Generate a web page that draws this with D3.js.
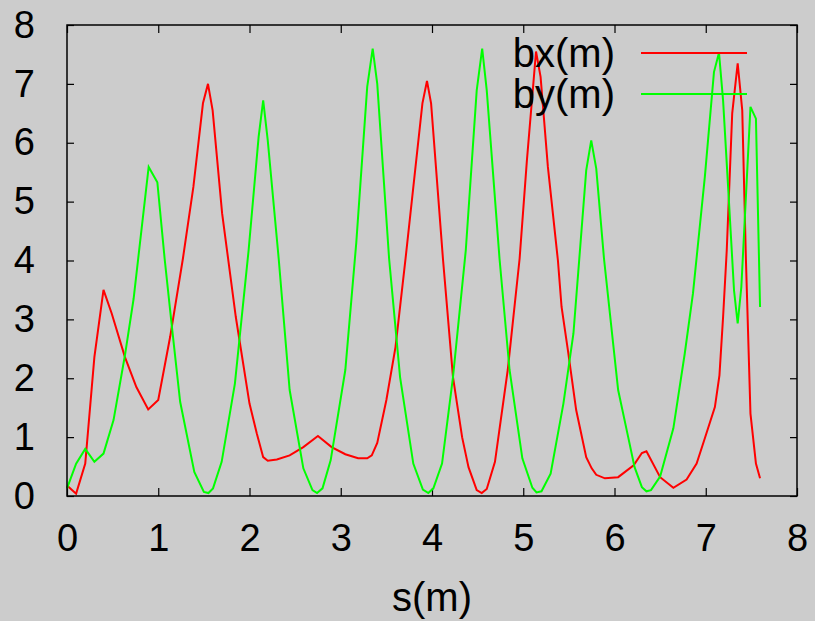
<!DOCTYPE html>
<html>
<head>
<meta charset="utf-8">
<script src="https://cdn.jsdelivr.net/npm/d3@7"></script>
<style>
  body { margin: 0; background: #cccccc; }
  text { font-family: "Liberation Sans", Arial, sans-serif; fill: #000; }
</style>
</head>
<body>
<div id="chart"></div>
<script>
// bx(m) samples
var sBx = [0.0, 0.1, 0.2, 0.3, 0.4, 0.49, 0.635, 0.76, 0.89, 1.0, 1.13, 1.27, 1.385, 1.49, 1.545, 1.596, 1.70, 1.85, 2.0, 2.08,
  2.15, 2.2, 2.3, 2.44, 2.59, 2.75, 2.9, 3.05, 3.19, 3.29, 3.34, 3.4, 3.5, 3.6, 3.71, 3.895, 3.945, 3.99, 4.12, 4.23,
  4.33, 4.4, 4.49, 4.545, 4.6, 4.69, 4.83, 4.96, 5.04, 5.14, 5.19, 5.27, 5.38, 5.42, 5.49, 5.58, 5.69, 5.75, 5.8, 5.895,
  6.04, 6.21, 6.3, 6.35, 6.5, 6.645, 6.79, 6.9, 6.99, 7.1, 7.15, 7.19, 7.23, 7.29, 7.35, 7.4, 7.44, 7.49, 7.55, 7.595];
var bx = [0.18, 0.04, 0.55, 2.36, 3.5, 3.1, 2.36, 1.85, 1.47, 1.63, 2.7, 4.03, 5.25, 6.67, 7.0, 6.55, 4.8, 3.04, 1.57, 1.06,
  0.66, 0.6, 0.62, 0.69, 0.83, 1.02, 0.83, 0.71, 0.64, 0.64, 0.69, 0.9, 1.63, 2.53, 4.03, 6.67, 7.05, 6.67, 4.03, 2.02,
  1.0, 0.49, 0.1, 0.05, 0.12, 0.58, 2.14, 4.03, 5.7, 7.55, 7.12, 5.59, 4.0, 3.21, 2.47, 1.46, 0.66, 0.47, 0.36, 0.3,
  0.32, 0.52, 0.73, 0.76, 0.32, 0.14, 0.28, 0.55, 0.98, 1.51, 2.05, 3.04, 4.17, 6.5, 7.35, 6.55, 4.03, 1.4, 0.55, 0.3];

// by(m) samples
var sBy = [0.0, 0.1, 0.2, 0.3, 0.4, 0.51, 0.635, 0.73, 0.895, 0.99, 1.07, 1.15, 1.24, 1.395, 1.5, 1.55, 1.6, 1.695, 1.84, 1.99,
  2.1, 2.15, 2.2, 2.32, 2.44, 2.59, 2.69, 2.74, 2.8, 2.89, 3.05, 3.17, 3.29, 3.35, 3.4, 3.53, 3.65, 3.795, 3.9, 3.96,
  4.015, 4.11, 4.23, 4.37, 4.49, 4.55, 4.6, 4.74, 4.85, 4.99, 5.1, 5.145, 5.2, 5.3, 5.44, 5.55, 5.69, 5.745, 5.8, 5.885,
  6.04, 6.15, 6.22, 6.3, 6.35, 6.4, 6.5, 6.645, 6.77, 6.86, 6.99, 7.09, 7.145, 7.19, 7.245, 7.31, 7.35, 7.39, 7.49, 7.55, 7.595];
var by = [0.13, 0.55, 0.8, 0.58, 0.72, 1.29, 2.39, 3.35, 5.59, 5.33, 4.03, 2.87, 1.6, 0.41, 0.07, 0.05, 0.13, 0.58, 1.91, 4.17,
  6.1, 6.72, 6.04, 4.03, 1.8, 0.47, 0.1, 0.05, 0.13, 0.61, 2.14, 4.3, 6.95, 7.6, 7.0, 4.03, 2.02, 0.55, 0.11, 0.05,
  0.13, 0.55, 2.02, 4.17, 6.89, 7.6, 6.89, 4.03, 2.14, 0.64, 0.14, 0.06, 0.08, 0.38, 1.57, 2.76, 5.53, 6.04, 5.56, 4.03,
  1.8, 1.0, 0.49, 0.15, 0.08, 0.1, 0.33, 1.15, 2.42, 3.44, 5.42, 7.2, 7.53, 6.72, 5.25, 3.49, 2.93, 3.55, 6.61, 6.41, 3.21];

var xTicks = [0, 1, 2, 3, 4, 5, 6, 7, 8];
var yTicks = [0, 1, 2, 3, 4, 5, 6, 7, 8];
var seriesNames = ["bx(m)", "by(m)"];
var seriesColors = ["#ff0000", "#00ff00"];

var W = 815, H = 621;
var margin = {top: 25, right: 18, bottom: 125, left: 67},
    width = W - margin.left - margin.right,
    height = H - margin.top - margin.bottom;

var svg = d3.select("#chart")
  .append("svg")
    .attr("width", W)
    .attr("height", H)
    .style("background", "#cccccc");

var g = svg.append("g")
    .attr("transform", "translate(" + margin.left + "," + margin.top + ")");

var x = d3.scaleLinear().domain([0, 8]).range([0, width]);
var y = d3.scaleLinear().domain([0, 8]).range([height, 0]);

// axes, ticks pointing inward and mirrored
function styleAxis(sel) {
  sel.select(".domain").remove();
  sel.selectAll(".tick line").attr("stroke", "#000").attr("stroke-width", 1.2);
  sel.selectAll("text").attr("font-size", "38px").attr("fill", "#000");
}

g.append("g")
  .attr("transform", "translate(0," + height + ")")
  .call(d3.axisBottom(x).tickValues(xTicks).tickSize(-8).tickPadding(28).tickFormat(d3.format("d")))
  .call(styleAxis)
  .selectAll("text").attr("dy", "0.71em");

g.append("g")
  .call(d3.axisTop(x).tickValues(xTicks).tickSize(-8).tickFormat(""))
  .call(styleAxis);

g.append("g")
  .call(d3.axisLeft(y).tickValues(yTicks).tickSize(-7).tickPadding(32).tickFormat(d3.format("d")))
  .call(styleAxis);

g.append("g")
  .attr("transform", "translate(" + width + ",0)")
  .call(d3.axisRight(y).tickValues(yTicks).tickSize(-7).tickFormat(""))
  .call(styleAxis);

// lines
var line = d3.line()
  .x(function(d) { return x(d[0]); })
  .y(function(d) { return y(d[1]); });

var series = [
  d3.zip(sBx, bx),
  d3.zip(sBy, by)
];

g.selectAll(".curve")
  .data(series)
  .enter()
  .append("path")
    .attr("class", "curve")
    .attr("d", line)
    .attr("fill", "none")
    .attr("stroke", function(d, i) { return seriesColors[i]; })
    .attr("stroke-width", 2)
    .attr("stroke-linejoin", "miter");

// frame
g.append("rect")
  .attr("x", 0)
  .attr("y", 0)
  .attr("width", width)
  .attr("height", height)
  .attr("fill", "none")
  .attr("stroke", "#000")
  .attr("stroke-width", 1.5);

// legend
var legend = g.append("g").attr("transform", "translate(" + (width - 182) + ",28)");
seriesNames.forEach(function(name, i) {
  legend.append("text")
    .attr("x", 0)
    .attr("y", i * 41 + 14)
    .attr("text-anchor", "end")
    .attr("font-size", "40px")
    .text(name);
  legend.append("line")
    .attr("x1", 26)
    .attr("x2", 132)
    .attr("y1", i * 41)
    .attr("y2", i * 41)
    .attr("stroke", seriesColors[i])
    .attr("stroke-width", 2);
});

// x label
svg.append("text")
  .attr("x", margin.left + width / 2)
  .attr("y", 611)
  .attr("text-anchor", "middle")
  .attr("font-size", "40px")
  .text("s(m)");
</script>
</body>
</html>
